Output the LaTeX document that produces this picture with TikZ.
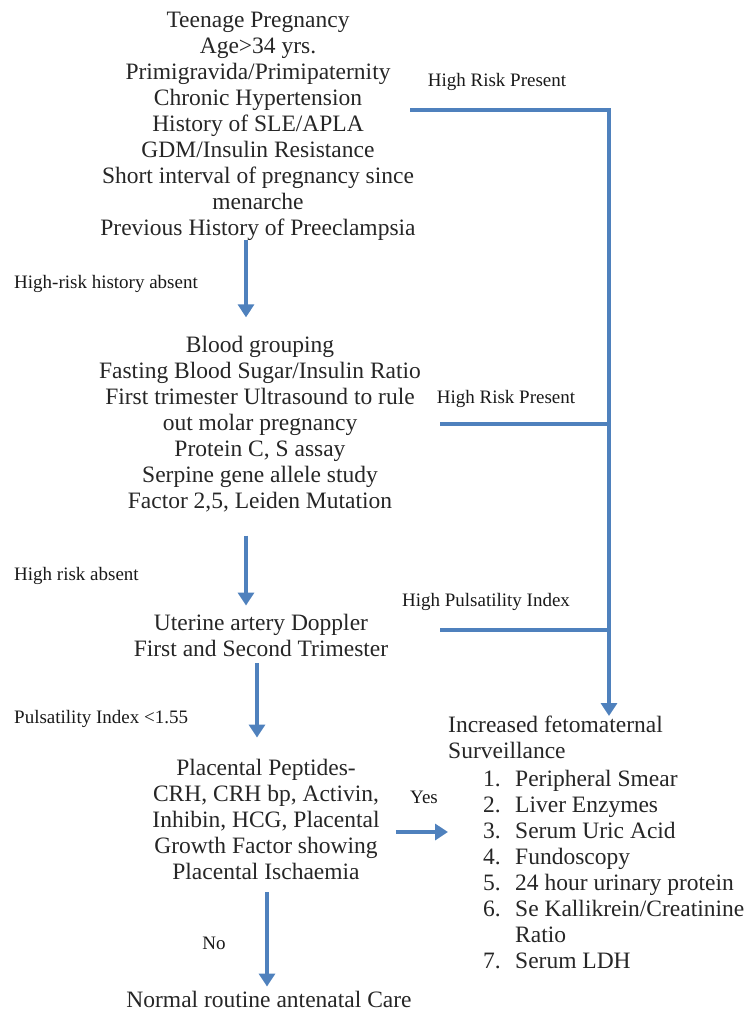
\documentclass[tikz,border=0pt]{standalone}
\usepackage{fontspec}
\setmainfont{Liberation Serif}
\usepackage{tikz}
\usetikzlibrary{arrows.meta}
\usetikzlibrary{positioning}
\definecolor{flowblue}{RGB}{79,129,189}
\tikzstyle{blk}=[align=center, inner sep=0pt, text=black!85, font=\fontsize{23.5}{26}\selectfont]
\tikzstyle{lst}=[align=left, inner sep=0pt, anchor=north west, text=black!85, font=\fontsize{23.5}{26}\selectfont]
\tikzstyle{lb}=[inner sep=0pt, text=black!90, font=\fontsize{19}{22}\selectfont]
\tikzstyle{ar}=[draw=flowblue, line width=3.5pt, -{Triangle[length=13pt,width=16pt]}]
\tikzstyle{ln}=[draw=flowblue, line width=3.5pt]
\newcommand{\survitem}[2]{\makebox[32pt][l]{#1.}#2}

\begin{document}
\begin{tikzpicture}[x=1pt,y=-1pt]
      \useasboundingbox (0,0) rectangle (744,1012);
      \node [blk] (r1) at (258,126) {Teenage Pregnancy\\Age>34 yrs.\\Primigravida/Primipaternity\\Chronic Hypertension\\History of SLE/APLA\\GDM/Insulin Resistance\\Short interval of pregnancy since\\menarche\\Previous History of Preeclampsia};
      \node [blk] (r2) at (260,424.5) {Blood grouping\\Fasting Blood Sugar/Insulin Ratio\\First trimester Ultrasound to rule\\out molar pregnancy\\Protein C, S assay\\Serpine gene allele study\\Factor 2,5, Leiden Mutation};
      \node [blk] (r3) at (261,635) {Uterine artery Doppler\\First and Second Trimester};
      \node [blk] (r4) at (266,819) {Placental Peptides-\\CRH, CRH bp, Activin,\\Inhibin, HCG, Placental\\Growth Factor showing\\Placental Ischaemia};
      \node [blk] (nc) at (269,999) {Normal routine antenatal Care};
      \node [lst] (sv) at (448,716) {Increased fetomaternal\\Surveillance};
      \node [lst] (ls) at (483,770) {\survitem{1}{Peripheral Smear}\\\survitem{2}{Liver Enzymes}\\\survitem{3}{Serum Uric Acid}\\\survitem{4}{Fundoscopy}\\\survitem{5}{24 hour urinary protein}\\\survitem{6}{Se Kallikrein/Creatinine}\\\hspace*{32pt}Ratio\\\survitem{7}{Serum LDH}};
      \node [lb] (l1) at (497,82) {High Risk Present};
      \node [lb, anchor=west] (l2) at (14,284) {High-risk history absent};
      \node [lb] (l3) at (506,399) {High Risk Present};
      \node [lb, anchor=west] (l4) at (14,576) {High risk absent};
      \node [lb] (l5) at (486,602) {High Pulsatility Index};
      \node [lb, anchor=west] (l6) at (14,719) {Pulsatility Index <1.55};
      \node [lb] (l7) at (424,797) {Yes};
      \node [lb] (l8) at (214,943) {No};
      \coordinate (h1) at (410,110);
      \coordinate (j1) at (609,110);
      \coordinate (h2) at (440,424);
      \coordinate (j2) at (609,424);
      \coordinate (h3) at (440,630);
      \coordinate (j3) at (609,630);
      \draw [ar] (h1) -- (j1) -- (j1 |- sv.north);
      \draw [ln] (h2) -- (j2);
      \draw [ln] (h3) -- (j3);
      \draw [ar, shorten >=19pt] ([xshift=-12pt]r1.south) -- ([xshift=-12pt]r1.south |- r2.north);
      \draw [ar, shorten <=23pt, shorten >=8pt] ([xshift=-14pt]r2.south) -- ([xshift=-14pt]r2.south |- r3.north);
      \draw [ar, shorten <=7pt, shorten >=21pt] ([xshift=-4pt]r3.south) -- ([xshift=-4pt]r3.south |- r4.north);
      \draw [ar, shorten <=13pt, shorten >=4pt] ([xshift=1pt]r4.south) -- ([xshift=1pt]r4.south |- nc.north);
      \draw [ar] ([xshift=16pt,yshift=-13pt]r4.east) -- ([yshift=-13pt]r4.east -| sv.west);
    \end{tikzpicture}
\end{document}
